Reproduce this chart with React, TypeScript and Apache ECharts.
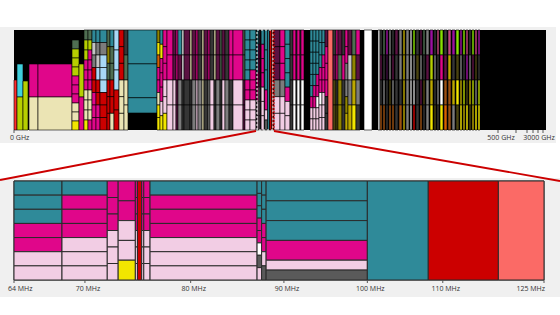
import React, { useEffect, useRef } from "react";
import * as echarts from "echarts";

// ---- colour legend of services ----
const PALETTE: Record<string, string> = {
  T: "#2f8a99", P: "#e0068a", L: "#f2cde4", B: "#ebe4b4", G: "#b6cf00", C: "#3fcfdc",
  R: "#cc0000", r: "#ff2d2d", S: "#fb6a66", A: "#a8d8f6", g: "#7c7c7c", l: "#c4c4c4",
  D: "#4f6e52", M: "#5b1242", W: "#ffffff", Y: "#f2e600", O: "#8f8400", o: "#d86000",
  V: "#9c10a0", E: "#86e000", N: "#363636", Q: "#c4447e", H: "#5a5a5a",
  d: "#4a4410", m: "#3c0c3c", b: "#9a5012", y: "#bca800",
};

// ---- overview (0 GHz – 3000 GHz) bands: [start, end, services top→bottom, low, high] ----
const overviewBands: [number, number, string, number?, number?][] = [
  [0, 3, "r", 0, 50], [3, 9, "C,G", 0, 66], [9, 14, "G", 0, 49], [15, 24, "P,B", 0, 66],
  [24, 58, "P,B", 0, 66], [58, 65, "D,G,G,G,P,P,P,B,B,Y", 0, 90], [65, 70, "G,P", 0, 66],
  [70, 74, "D,G,G,P,P,P,B,B,B,Y"], [74, 78, "D,G,P,P,P,P,B,B,B,P"], [78, 82, "T,l,g,R,R,P,P,P"],
  [82, 86, "T,g,l,A,R,R,P,P"], [86, 93, "T,g,A,A,A,R,R,R"], [93, 96, "D,O,D,R,R,R"],
  [96, 100, "T,D,D,R,R,B"], [100, 105, "A,A,A,R,R"], [105, 110, "R,R,R,B,B,B"],
  [110, 114, "N,D,B,B"], [114, 143, "T,T,T:0.45", 17, 100], [143, 146, "O,Y,o,P,P,B,Y,Y"],
  [146, 149, "T,Y,P,P,P,L,Y"], [149, 153, "P,P,P,L,L,Y"], [153, 159, "P,P,L,L"],
  [159, 162, "M,M,L,L"], [162, 164, "P,P,M,M"], [164, 168, "T,M,g,g"], [168, 170, "W,W,N,N"],
  [170, 176, "M,M,N,N"], [176, 178, "B,B,N,N"], [178, 182, "M,M,g,g"], [182, 184, "P,P,L,L"],
  [184, 188, "N,N,g,g"], [188, 190, "B,B,B,B"], [190, 194, "M,M,N,N"], [194, 196, "P,P,g,g"],
  [196, 200, "N,N,L,L"], [200, 202, "B,B,N,N"], [202, 206, "M,M,g,g"], [206, 208, "D,D,N,N"],
  [208, 211, "M,M,L,L"], [211, 215, "N,N,g,g"], [215, 219, "P,P,N,N"], [219, 229, "P,P,L,L"],
  [229, 231, "D,D,M,M"], [231, 236, "T,T,T,T,T,P,P,L,L,L"], [236, 242, "T,T,T,T,P,P,P,L,L,L"],
  [242, 243, "N"], [259, 260, "R"], [260, 266, "M,M,M,g,L,L"], [266, 271, "P,P,P,g,L,L"],
  [271, 276, "T,T,T,T,P,L,L"], [276, 279, "N,N,N,N"], [279, 282, "P,P,W,W"], [282, 283, "N"],
  [283, 286, "P,P,W,W"], [286, 287, "N"], [287, 290, "P,P,W,W"], [296, 299, "T,T,T,T,T,T,P,L,L"],
  [299, 302, "T,T,T,T,T,P,P,L,L"], [302, 305, "T,T,T,T,P,P,W,L,L"], [305, 308, "T,T,T,P,P,W,L,L"],
  [308, 311, "T,T,P,P,P,L,L,L"], [311, 314, "M,P,P,P,N,N"], [314, 319, "S"], [319, 322, "N,M,d,d"],
  [322, 324, "P,P,N,d"], [324, 328, "M,D,O,O"], [328, 331, "N,P,N,N"], [331, 334, "P,P,g,g,O,y"],
  [334, 338, "M,l,g,y"], [338, 342, "D,O,y,Y"], [342, 346, "P,M,g,N"], [350, 358, "W"],
  [364, 366, "W"], [366, 368, "N,M,N,b"], [369, 371, "D,N,g,b"], [372, 374, "V,m,N,N"],
  [375, 377, "g,g,d,b"], [378, 380, "N,M,g,b"], [381, 384, "M,N,N,N"], [385, 388, "g,g,N,b"],
  [389, 391, "y,y,y,y"], [392, 395, "g,g,g,g"], [396, 398, "l,l,l,l"], [399, 401, "E,g,l,R"],
  [402, 405, "N,d,N,N"], [406, 408, "M,g,M,b"], [409, 411, "D,N,d,N"], [412, 415, "g,M,g,g"],
  [416, 419, "V,G,y,Y"], [420, 422, "N,g,N,d"], [423, 425, "Q,N,g,N"], [426, 429, "E,P,W,Y"],
  [430, 433, "N,M,b,o"], [434, 437, "Q,y,b,b"], [438, 441, "V,N,y,g"], [442, 445, "E,d,Y,d"],
  [446, 448, "V,g,y,Y"], [449, 451, "E,N,G,y"], [452, 454, "Q,V,d,Y"], [455, 457, "N,g,y,d"],
  [458, 460, "E,M,G,y"], [461, 463, "Q,d,g,Y"], [464, 466, "V,N,G,Y"],
];

// where the 64–125 MHz window sits on the overview axis
const zoomWindow = [243, 259];

// ---- zoomed bands, MHz: [start, end, services top→bottom] ----
const zoomBands: [number, number, string][] = [
  [64, 68, "T,T,T,P,P,L,L"], [68, 72, "T,P,P,P,L,L,L"], [72, 73, "P,P,P,L,L,L"],
  [73, 74.6, "P,P,L,L,Y"], [74.6, 74.8, "P,P,P,L,L,L"], [74.8, 75.2, "R"],
  [75.2, 75.4, "P,P,P,L,L,L"], [75.4, 76, "P,P,P,L,L,L"], [76, 87, "T,P,P,P,L,L,L"],
  [87, 87.5, "T,T,T,P,P,W,H,L"], [87.5, 88, "T,T,T,P,P,L,H"], [88, 100, "T,T,T,P,L:0.5,H:0.5"],
  [100, 108, "T"], [108, 118, "R"], [118, 125, "S"],
];

const overviewTicks = [0, 484, 502, 513, 519, 524, 529];
const overviewLabels = ["0 GHz", "500 GHz", "3000 GHz"];
const overviewLabelPos = [0, 487, 525];
const zoomTicks = [64, 70, 80, 90, 100, 110, 125];
const zoomTickLabels = zoomTicks.map((v) => `${v} MHz`);

const ZMIN = 64;
const ZMAX = 125;

const TOP = { left: 14, top: 30, width: 532, height: 100 };
const BOT = { left: 14, top: 181, width: 530, height: 99 };

type Item = { value: number[]; itemStyle: { color: string } };

function stack(x0: number, x1: number, segs: string, low: number, high: number, out: Item[]) {
  const parts = segs.split(",").map((t) => {
    const [c, w] = t.split(":");
    return { c, w: w ? parseFloat(w) : 1 };
  });
  const total = parts.reduce((s, p) => s + p.w, 0);
  let top = high;
  for (const p of parts) {
    const h = ((high - low) * p.w) / total;
    out.push({ value: [x0, x1, top - h, top], itemStyle: { color: PALETTE[p.c] } });
    top -= h;
  }
}

const toWindow = (f: number) =>
  zoomWindow[0] +
  ((zoomWindow[1] - zoomWindow[0]) * (Math.log10(f) - Math.log10(ZMIN))) /
    (Math.log10(ZMAX) - Math.log10(ZMIN));

function buildOverview(): Item[] {
  const out: Item[] = [];
  for (const b of overviewBands) stack(b[0], b[1], b[2], b[3] ?? 0, b[4] ?? 100, out);
  for (const b of zoomBands) stack(toWindow(b[0]), toWindow(b[1]), b[2], 0, 100, out);
  return out;
}

function buildZoom(): Item[] {
  const out: Item[] = [];
  for (const b of zoomBands) stack(b[0], b[1], b[2], 0, 1, out);
  return out;
}

const rectItem = (stroke: string, lw: number) => (params: any, api: any) => {
  const a = api.coord([api.value(0), api.value(3)]);
  const b = api.coord([api.value(1), api.value(2)]);
  return {
    type: "rect",
    shape: { x: a[0], y: a[1], width: b[0] - a[0], height: b[1] - a[1] },
    style: { fill: api.visual("color"), stroke, lineWidth: lw },
  };
};

const FONT = '"Open Sans", "Noto Sans", sans-serif';

export default function App() {
  const ref = useRef<HTMLDivElement>(null);
  useEffect(() => {
    if (!ref.current) return;
    const chart = echarts.init(ref.current, undefined, { renderer: "svg" });
    const option: any = {
      animation: false,
      backgroundColor: "#ffffff",
      graphic: [
        { type: "rect", z: -100, silent: true, shape: { x: 0, y: 27, width: 556, height: 116 }, style: { fill: "#f0f0f0" } },
        { type: "rect", z: -100, silent: true, shape: { x: 0, y: 178, width: 560, height: 119 }, style: { fill: "#f0f0f0" } },
        { type: "rect", z: -90, silent: true, shape: { x: TOP.left, y: TOP.top, width: TOP.width, height: TOP.height }, style: { fill: "#000000" } },
      ],
      grid: [
        { ...TOP, show: false },
        { ...BOT, show: true, borderColor: "#333", borderWidth: 1, backgroundColor: "transparent" },
      ],
      xAxis: [
        { type: "value", gridIndex: 0, min: 0, max: 532, show: false },
        { type: "log", logBase: 10, gridIndex: 1, min: ZMIN, max: ZMAX, axisLabel: { show: false }, axisTick: { show: false }, splitLine: { show: false }, axisLine: { show: false } },
      ],
      yAxis: [
        { type: "value", gridIndex: 0, min: 0, max: 100, show: false },
        { type: "value", gridIndex: 1, min: 0, max: 1, show: false },
      ],
      series: [
        {
          type: "custom", xAxisIndex: 0, yAxisIndex: 0, encode: { x: [0, 1], y: [2, 3] },
          renderItem: rectItem("#000000", 0.6), data: buildOverview(), silent: true,
        },
        {
          type: "custom", xAxisIndex: 1, yAxisIndex: 1, encode: { x: [0, 1], y: [2, 3] },
          renderItem: rectItem("#2a2a2a", 1), data: buildZoom(), silent: true,
        },
        {
          type: "custom", xAxisIndex: 0, yAxisIndex: 0, silent: true, z: 5,
          data: [zoomWindow],
          renderItem: (params: any, api: any) => {
            const l = api.coord([api.value(0), 0]);
            const r = api.coord([api.value(1), 0]);
            const t = api.coord([api.value(0), 100]);
            const W = api.getWidth();
            return {
              type: "group",
              children: [
                { type: "rect", shape: { x: l[0], y: t[1], width: r[0] - l[0], height: l[1] - t[1] }, style: { fill: "none", stroke: "#ffffff", lineWidth: 1, lineDash: [2, 2] } },
                { type: "line", shape: { x1: r[0] + 1, y1: t[1], x2: r[0] + 1, y2: r[1] }, style: { stroke: "#e00000", lineWidth: 1, lineDash: [2, 1] } },
                { type: "line", shape: { x1: l[0] - 1, y1: l[1] + 1, x2: 0, y2: BOT.top - 1 }, style: { stroke: "#cc0000", lineWidth: 1.8 } },
                { type: "line", shape: { x1: r[0] + 1, y1: r[1] + 1, x2: W, y2: BOT.top }, style: { stroke: "#cc0000", lineWidth: 1.8 } },
              ],
            };
          },
        },
        {
          type: "custom", xAxisIndex: 0, yAxisIndex: 0, silent: true,
          data: overviewTicks.map((v) => [v]),
          renderItem: (params: any, api: any) => {
            const p = api.coord([api.value(0), 0]);
            return { type: "line", shape: { x1: p[0], y1: p[1], x2: p[0], y2: p[1] + 3 }, style: { stroke: "#555", lineWidth: 1 } };
          },
        },
        {
          type: "custom", xAxisIndex: 0, yAxisIndex: 0, silent: true,
          data: overviewLabelPos.map((v) => [v]),
          renderItem: (params: any, api: any) => {
            const p = api.coord([api.value(0), 0]);
            const i = params.dataIndex;
            const first = i === 0;
            return {
              type: "text",
              style: {
                text: overviewLabels[i], x: first ? p[0] - 4 : p[0], y: p[1] + 7,
                fill: "#333", fontSize: 7, fontFamily: FONT,
                align: first ? "left" : "center", verticalAlign: "middle",
              },
            };
          },
        },
        {
          type: "custom", xAxisIndex: 1, yAxisIndex: 1, silent: true,
          data: zoomTicks.map((v) => [v]),
          renderItem: (params: any, api: any) => {
            const p = api.coord([api.value(0), 0]);
            const i = params.dataIndex;
            const first = i === 0;
            const last = i === zoomTicks.length - 1;
            return {
              type: "group",
              children: [
                { type: "line", shape: { x1: p[0], y1: p[1], x2: p[0], y2: p[1] + 3 }, style: { stroke: "#555", lineWidth: 1 } },
                {
                  type: "text",
                  style: {
                    text: zoomTickLabels[i], x: first ? p[0] - 6 : last ? p[0] + 1 : p[0] + 3, y: p[1] + 8,
                    fill: "#333", fontSize: 7, fontFamily: FONT,
                    align: first ? "left" : last ? "right" : "center", verticalAlign: "middle",
                  },
                },
              ],
            };
          },
        },
      ],
    };
    chart.setOption(option);
    return () => chart.dispose();
  }, []);
  return <div ref={ref} style={{ position: "fixed", left: 0, top: 0, width: 560, height: 315 }} />;
}
